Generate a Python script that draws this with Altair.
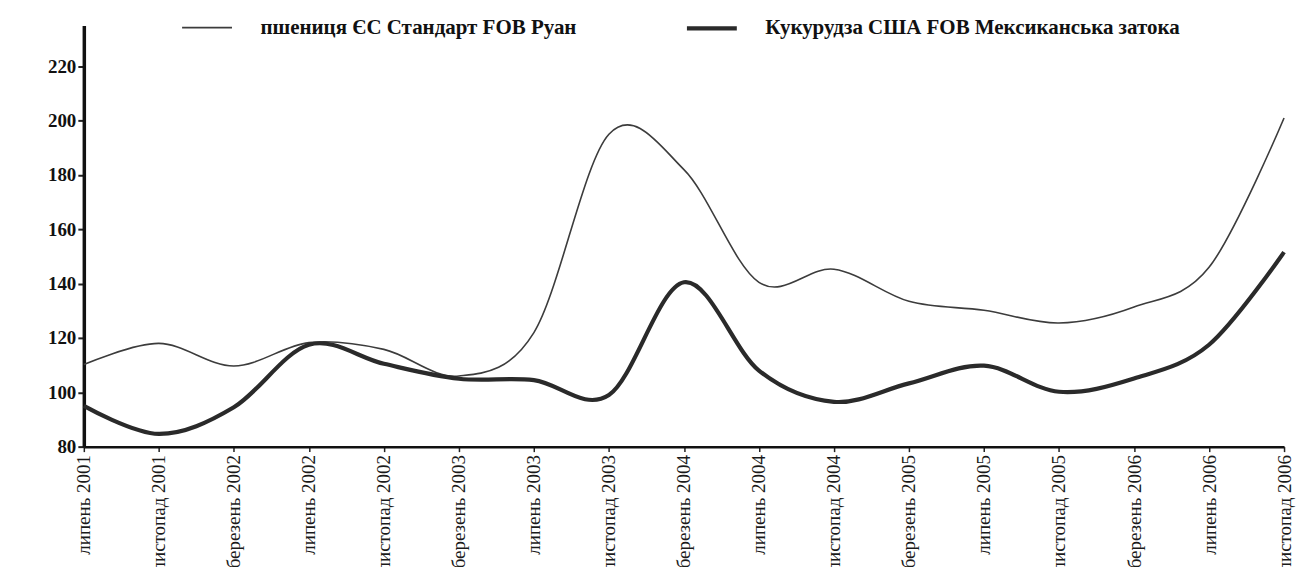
import altair as alt
import pandas as pd

months = ["липень 2001", "листопад 2001", "березень 2002", "липень 2002", "листопад 2002",
          "березень 2003", "липень 2003", "листопад 2003", "березень 2004", "липень 2004",
          "листопад 2004", "березень 2005", "липень 2005", "листопад 2005", "березень 2006",
          "липень 2006", "листопад 2006"]
wheat = [110.2, 118.0, 109.7, 118.3, 115.8, 106.0, 122.0, 195.0, 182.0, 140.5,
         145.3, 133.5, 130.2, 125.5, 131.4, 146.0, 201.0]
corn = [95.0, 84.7, 94.5, 117.5, 110.5, 105.0, 104.5, 99.0, 140.5, 108.0,
        96.5, 103.3, 109.8, 100.2, 105.1, 117.5, 151.6]
series_names = ["пшениця ЄС Стандарт FOB Руан", "Кукурудза США FOB Мексиканська затока"]
y_ticks = [80, 100, 120, 140, 160, 180, 200, 220]

rows = []
for name, vals in zip(series_names, [wheat, corn]):
    for m, v in zip(months, vals):
        rows.append({"month": m, "value": v, "series": name})
df = pd.DataFrame(rows)

FONT = "Liberation Serif"

legend_cfg = dict(title=None, orient="none", legendX=96, legendY=-25,
                  direction="horizontal", columns=2,
                  symbolType="stroke", symbolSize=2500,
                  labelFont=FONT, labelFontSize=21,
                  labelFontWeight="bold", labelColor="#111",
                  labelLimit=700, labelOffset=26,
                  columnPadding=102)

chart = alt.Chart(df).mark_line(interpolate="cardinal").encode(
    x=alt.X("month:N", sort=months,
            scale=alt.Scale(type="point", padding=0),
            axis=alt.Axis(title=None, labelAngle=-90, labelFont=FONT, labelFontSize=19,
                          labelColor="#1a1a1a", labelOverlap=False, labelPadding=3,
                          tickSize=5, tickColor="#222", tickWidth=1.5,
                          domainColor="#111", domainWidth=2.5, grid=False)),
    y=alt.Y("value:Q",
            scale=alt.Scale(domain=[80, 235], nice=False, zero=False),
            axis=alt.Axis(title=None, values=y_ticks, labelFont=FONT, labelFontSize=19,
                          labelFontWeight="bold", labelColor="#111", labelPadding=2,
                          tickSize=6, tickColor="#222", tickWidth=2,
                          domainColor="#111", domainWidth=3.5, grid=False)),
    color=alt.Color("series:N",
                    scale=alt.Scale(domain=series_names, range=["#3c3c3c", "#2a2a2a"]),
                    legend=alt.Legend(**legend_cfg)),
    strokeWidth=alt.StrokeWidth("series:N",
                                scale=alt.Scale(domain=series_names, range=[1.6, 4.2]),
                                legend=alt.Legend(**legend_cfg)),
).properties(
    width=1203,
    height=422,
    autosize=alt.AutoSizeParams(type="none"),
    padding={"left": 76, "top": 17, "right": 21, "bottom": 120},
    background="white",
).configure_view(stroke=None)

chart.save("out.html", embed_options={"renderer": "svg", "actions": False})
